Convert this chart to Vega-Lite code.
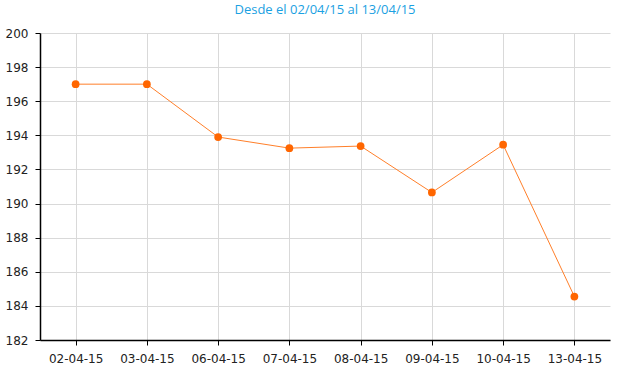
{
  "$schema": "https://vega.github.io/schema/vega-lite/v6.json",
  "autosize": "none",
  "width": 570,
  "height": 307,
  "padding": {"left": 40, "top": 33, "right": 10, "bottom": 35},
  "background": "white",
  "title": {
    "text": "Desde el 02/04/15 al 13/04/15",
    "color": "#1BA1E2",
    "font": "Open Sans",
    "fontSize": 13,
    "fontWeight": "normal",
    "offset": 10,
    "anchor": "middle"
  },
  "config": {
    "view": {"stroke": null},
    "axis": {
      "labelFont": "DejaVu Sans",
      "labelFontSize": 12,
      "labelColor": "#222222",
      "domainColor": "#000000",
      "tickColor": "#000000",
      "gridColor": "#d9d9d9",
      "gridWidth": 1,
      "tickSize": 5,
      "title": null
    }
  },
  "data": {
    "values": [
      {"fecha": "02-04-15", "valor": 197.0},
      {"fecha": "03-04-15", "valor": 197.0},
      {"fecha": "06-04-15", "valor": 193.9},
      {"fecha": "07-04-15", "valor": 193.25},
      {"fecha": "08-04-15", "valor": 193.37},
      {"fecha": "09-04-15", "valor": 190.65},
      {"fecha": "10-04-15", "valor": 193.45},
      {"fecha": "13-04-15", "valor": 184.55}
    ]
  },
  "encoding": {
    "x": {
      "field": "fecha",
      "type": "ordinal",
      "sort": null,
      "scale": {"type": "point", "padding": 0.5},
      "axis": {"labelAngle": 0, "grid": true, "labelPadding": 8, "domainWidth": 1.5}
    },
    "y": {
      "field": "valor",
      "type": "quantitative",
      "scale": {"domain": [182, 200], "nice": false, "zero": false},
      "axis": {"values": [182, 184, 186, 188, 190, 192, 194, 196, 198, 200], "grid": true, "labelPadding": 7, "domainWidth": 1.5}
    }
  },
  "layer": [
    {"mark": {"type": "line", "color": "#FF7F2A", "strokeWidth": 1}},
    {"mark": {"type": "point", "filled": true, "color": "#FF6600", "size": 60, "opacity": 1}}
  ]
}
